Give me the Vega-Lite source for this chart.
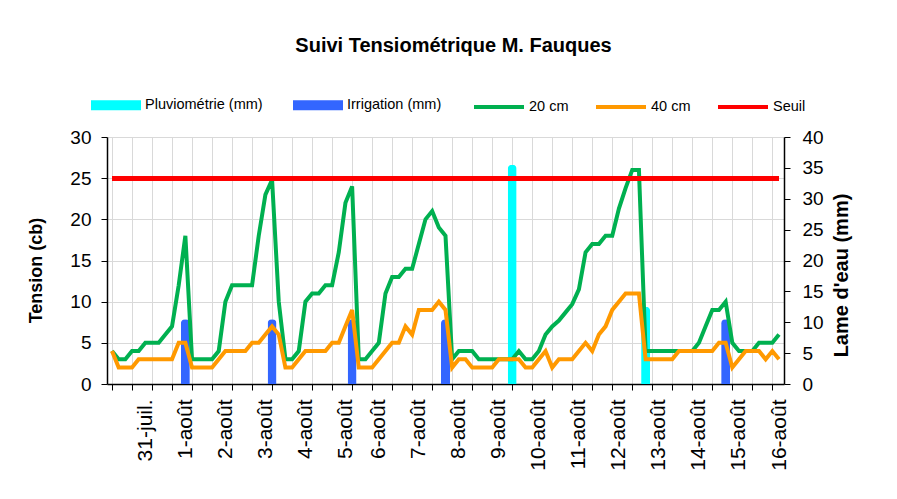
{
  "$schema": "https://vega.github.io/schema/vega-lite/v6.json",
  "width": 677,
  "height": 247,
  "autosize": {"type": "none"},
  "padding": {"left": 107, "top": 137, "right": 113, "bottom": 115},
  "background": "white",
  "config": {
    "font": "Liberation Sans",
    "view": {"stroke": null},
    "axis": {"domainColor": "black", "tickColor": "black", "labelColor": "black", "titleColor": "black", "gridColor": "#d9d9d9", "domainWidth": 1.5, "tickWidth": 1},
    "legend": {"labelFont": "Liberation Sans", "labelFontSize": 14.5, "labelColor": "black"}
  },
  "title": {"text": "Suivi Tensiométrique M. Fauques", "fontSize": 20, "fontWeight": "bold", "font": "Liberation Sans", "color": "black", "anchor": "middle", "frame": "group", "dx": 8, "offset": 24},
  "datasets": {
    "tension": [
      {"i":0,"t20":4,"t40":4},{"i":1,"t20":3,"t40":2},{"i":2,"t20":3,"t40":2},{"i":3,"t20":4,"t40":2},{"i":4,"t20":4,"t40":3},
      {"i":5,"t20":5,"t40":3},{"i":6,"t20":5,"t40":3},{"i":7,"t20":5,"t40":3},{"i":8,"t20":6,"t40":3},{"i":9,"t20":7,"t40":3},
      {"i":10,"t20":12,"t40":5},{"i":11,"t20":18,"t40":5},{"i":12,"t20":3,"t40":2},{"i":13,"t20":3,"t40":2},{"i":14,"t20":3,"t40":2},
      {"i":15,"t20":3,"t40":2},{"i":16,"t20":4,"t40":3},{"i":17,"t20":10,"t40":4},{"i":18,"t20":12,"t40":4},{"i":19,"t20":12,"t40":4},
      {"i":20,"t20":12,"t40":4},{"i":21,"t20":12,"t40":5},{"i":22,"t20":18,"t40":5},{"i":23,"t20":23,"t40":6},{"i":24,"t20":24.8,"t40":7},
      {"i":25,"t20":10,"t40":6},{"i":26,"t20":3,"t40":2},{"i":27,"t20":3,"t40":2},{"i":28,"t20":4,"t40":3},{"i":29,"t20":10,"t40":4},
      {"i":30,"t20":11,"t40":4},{"i":31,"t20":11,"t40":4},{"i":32,"t20":12,"t40":4},{"i":33,"t20":12,"t40":5},{"i":34,"t20":16,"t40":5},
      {"i":35,"t20":22,"t40":7},{"i":36,"t20":24,"t40":9},{"i":37,"t20":3,"t40":2},{"i":38,"t20":3,"t40":2},{"i":39,"t20":4,"t40":2},
      {"i":40,"t20":5,"t40":3},{"i":41,"t20":11,"t40":4},{"i":42,"t20":13,"t40":5},{"i":43,"t20":13,"t40":5},{"i":44,"t20":14,"t40":7},
      {"i":45,"t20":14,"t40":6},{"i":46,"t20":17,"t40":9},{"i":47,"t20":20,"t40":9},{"i":48,"t20":21,"t40":9},{"i":49,"t20":19,"t40":10},
      {"i":50,"t20":18,"t40":9},{"i":51,"t20":3,"t40":2},{"i":52,"t20":4,"t40":3},{"i":53,"t20":4,"t40":3},{"i":54,"t20":4,"t40":2},
      {"i":55,"t20":3,"t40":2},{"i":56,"t20":3,"t40":2},{"i":57,"t20":3,"t40":2},{"i":58,"t20":3,"t40":3},{"i":59,"t20":3,"t40":3},
      {"i":60,"t20":3,"t40":3},{"i":61,"t20":4,"t40":3},{"i":62,"t20":3,"t40":2},{"i":63,"t20":3,"t40":2},{"i":64,"t20":4,"t40":3},
      {"i":65,"t20":6,"t40":4},{"i":66,"t20":7,"t40":2},{"i":67,"t20":7.7,"t40":3},{"i":68,"t20":8.7,"t40":3},{"i":69,"t20":9.7,"t40":3},
      {"i":70,"t20":11.5,"t40":4},{"i":71,"t20":16,"t40":5},{"i":72,"t20":17,"t40":4},{"i":73,"t20":17,"t40":6},{"i":74,"t20":18,"t40":7},
      {"i":75,"t20":18,"t40":9},{"i":76,"t20":21.3,"t40":10},{"i":77,"t20":23.8,"t40":11},{"i":78,"t20":26,"t40":11},{"i":79,"t20":26,"t40":11},
      {"i":80,"t20":4,"t40":3},{"i":81,"t20":4,"t40":3},{"i":82,"t20":4,"t40":3},{"i":83,"t20":4,"t40":3},{"i":84,"t20":4,"t40":3},
      {"i":85,"t20":4,"t40":4},{"i":86,"t20":4,"t40":4},{"i":87,"t20":4,"t40":4},{"i":88,"t20":5,"t40":4},{"i":89,"t20":7,"t40":4},
      {"i":90,"t20":9,"t40":4},{"i":91,"t20":9,"t40":5},{"i":92,"t20":10,"t40":5},{"i":93,"t20":5,"t40":2},{"i":94,"t20":4,"t40":3},
      {"i":95,"t20":4,"t40":4},{"i":96,"t20":4,"t40":4},{"i":97,"t20":5,"t40":4},{"i":98,"t20":5,"t40":3},{"i":99,"t20":5,"t40":4},
      {"i":100,"t20":6,"t40":3}
    ],
    "apports": [
      {"i":11,"type":"Irrigation (mm)","mm":10.5},
      {"i":24,"type":"Irrigation (mm)","mm":10.5},
      {"i":36,"type":"Irrigation (mm)","mm":10.5},
      {"i":50,"type":"Irrigation (mm)","mm":10.5},
      {"i":92,"type":"Irrigation (mm)","mm":10.5},
      {"i":60,"type":"Pluviométrie (mm)","mm":35.5},
      {"i":80,"type":"Pluviométrie (mm)","mm":12.5}
    ]
  },
  "encoding": {
    "x": {
      "field": "i",
      "type": "quantitative",
      "scale": {"domain": [0, 100], "nice": false, "zero": false},
      "axis": {
        "title": null,
        "values": [0,3,6,9,12,15,18,21,24,27,30,33,36,39,42,45,48,51,54,57,60,63,66,69,72,75,78,81,84,87,90,93,96,99,5,11,17,23,29,35,40,46,52,58,64,70,76,82,88,94,100],
        "labelExpr": "indexof([5,11,17,23,29,35,40,46,52,58,64,70,76,82,88,94,100], datum.value) < 0 ? '' : ['31-juil.','1-août','2-août','3-août','4-août','5-août','6-août','7-août','8-août','9-août','10-août','11-août','12-août','13-août','14-août','15-août','16-août'][indexof([5,11,17,23,29,35,40,46,52,58,64,70,76,82,88,94,100], datum.value)]",
        "labelAngle": 270,
        "labelAlign": "right",
        "labelBaseline": "middle",
        "labelFontSize": 21,
        "labelPadding": 9,
        "labelOverlap": false,
        "labelBound": false,
        "labelFlush": false,
        "tickSize": 6,
        "grid": true,
        "tickOpacity": {"condition": {"test": "datum.value % 3 === 0", "value": 1}, "value": 0},
        "gridOpacity": {"condition": {"test": "datum.value % 3 === 0", "value": 1}, "value": 0}
      }
    }
  },
  "layer": [
    {
      "data": {"name": "apports"},
      "mark": {"type": "bar", "size": 9, "cornerRadiusEnd": 4},
      "encoding": {
        "y": {
          "field": "mm",
          "type": "quantitative",
          "scale": {"domain": [0, 40], "nice": false},
          "axis": {"orient": "right", "title": "Lame d'eau (mm)", "titleFontSize": 20, "titleFontWeight": "bold", "titleAngle": 270, "titlePadding": 28, "titleY": 138, "values": [0,5,10,15,20,25,30,35,40], "labelFontSize": 19, "labelPadding": 12, "tickSize": 6, "grid": false}
        },
        "fill": {
          "field": "type",
          "type": "nominal",
          "scale": {"domain": ["Pluviométrie (mm)", "Irrigation (mm)"], "range": ["#00FFFF", "#3366FF"]},
          "legend": {"title": null, "orient": "none", "legendX": -16, "legendY": -57, "direction": "horizontal", "symbolType": "M-1,-0.2H1V0.2H-1Z", "symbolSize": 2500, "symbolStrokeWidth": 0, "labelOffset": 4, "columnPadding": 30}
        }
      }
    },
    {
      "data": {"name": "tension"},
      "layer": [
        {
          "mark": {"type": "line", "strokeWidth": 4},
          "encoding": {
            "y": {
              "field": "t20",
              "type": "quantitative",
              "scale": {"domain": [0, 30], "nice": false},
              "axis": {"orient": "left", "title": "Tension (cb)", "titleFontSize": 18, "titleFontWeight": "bold", "titlePadding": 24, "titleY": 133, "values": [0,5,10,15,20,25,30], "labelFontSize": 19, "labelPadding": 10, "tickSize": 6, "grid": true}
            },
            "stroke": {
              "datum": "20 cm",
              "type": "nominal",
              "scale": {"domain": ["20 cm", "40 cm", "Seuil"], "range": ["#00B050", "#FF9900", "#FF0000"]},
              "legend": {"title": null, "orient": "none", "legendX": 365, "legendY": -57, "direction": "horizontal", "symbolType": "stroke", "symbolSize": 2500, "symbolStrokeWidth": 4, "labelOffset": 3, "columnPadding": 19}
            }
          }
        },
        {
          "mark": {"type": "line", "strokeWidth": 4},
          "encoding": {
            "y": {
              "field": "t40",
              "type": "quantitative",
              "axis": {"orient": "left", "title": "Tension (cb)", "titleFontSize": 18, "titleFontWeight": "bold", "titlePadding": 24, "titleY": 133, "values": [0,5,10,15,20,25,30], "labelFontSize": 19, "labelPadding": 10, "tickSize": 6, "grid": true}
            },
            "stroke": {"datum": "40 cm", "type": "nominal"}
          }
        },
        {
          "mark": {"type": "rule", "strokeWidth": 4.5},
          "encoding": {
            "x": {"datum": 0},
            "x2": {"datum": 100},
            "y": {
              "datum": 25,
              "type": "quantitative",
              "axis": {"orient": "left", "title": "Tension (cb)", "titleFontSize": 18, "titleFontWeight": "bold", "titlePadding": 24, "titleY": 133, "values": [0,5,10,15,20,25,30], "labelFontSize": 19, "labelPadding": 10, "tickSize": 6, "grid": true}
            },
            "stroke": {"datum": "Seuil", "type": "nominal"}
          }
        }
      ]
    }
  ],
  "resolve": {"scale": {"y": "independent"}}
}
